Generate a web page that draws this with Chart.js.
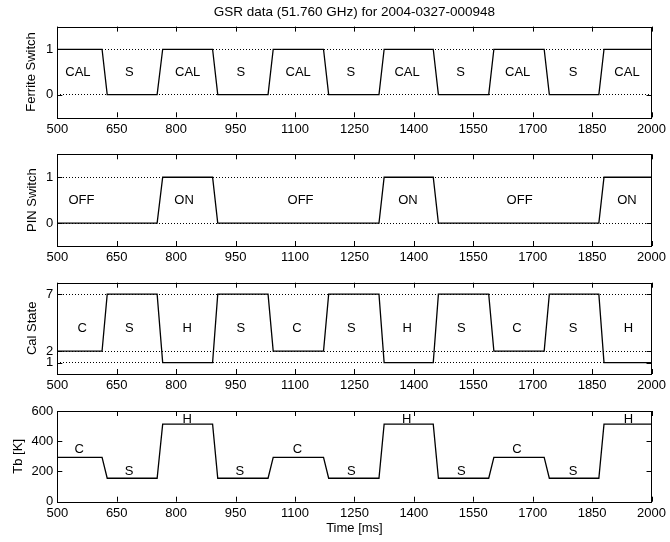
<!DOCTYPE html>
<html>
<head>
<meta charset="utf-8">
<script src="https://cdn.jsdelivr.net/npm/chart.js@4"></script>
<style>
  html, body { margin: 0; padding: 0; background: #fff; }
  #wrap { position: relative; width: 670px; height: 542px; }
  .panel { position: absolute; left: 0; width: 670px; }
</style>
</head>
<body>
<div id="wrap">
  <div class="panel" style="top:0px;height:140px"><canvas id="c1"></canvas></div>
  <div class="panel" style="top:128px;height:140px"><canvas id="c2"></canvas></div>
  <div class="panel" style="top:256px;height:140px"><canvas id="c3"></canvas></div>
  <div class="panel" style="top:384px;height:158px"><canvas id="c4"></canvas></div>
</div>
<script>
// corner times of the switching waveform (ms)
const timeMs = [500, 613, 626, 752, 766, 892, 905, 1032, 1045, 1172, 1185, 1312, 1325, 1449, 1462, 1589, 1602, 1729, 1742, 1867, 1880, 2000];
const ferrite = [1, 1, 0, 0, 1, 1, 0, 0, 1, 1, 0, 0, 1, 1, 0, 0, 1, 1, 0, 0, 1, 1];
const pinSwitch = [0, 0, 0, 0, 1, 1, 0, 0, 0, 0, 0, 0, 1, 1, 0, 0, 0, 0, 0, 0, 1, 1];
const calState = [2, 2, 7, 7, 1, 1, 7, 7, 2, 2, 7, 7, 1, 1, 7, 7, 2, 2, 7, 7, 1, 1];
const tb = [293, 293, 155, 155, 513, 513, 155, 155, 293, 293, 155, 155, 513, 513, 155, 155, 293, 293, 155, 155, 513, 513];

const xTicks = [500, 650, 800, 950, 1100, 1250, 1400, 1550, 1700, 1850, 2000];

// text labels inside the panels
const ferriteText = ['CAL', 'S', 'CAL', 'S', 'CAL', 'S', 'CAL', 'S', 'CAL', 'S', 'CAL'];
const ferriteTextX = [552, 682, 829, 963, 1108, 1241, 1383, 1518, 1662, 1802, 1938];
const ferriteTextY = [0.5, 0.5, 0.5, 0.5, 0.5, 0.5, 0.5, 0.5, 0.5, 0.5, 0.5];

const pinText = ['OFF', 'ON', 'OFF', 'ON', 'OFF', 'ON'];
const pinTextX = [561, 820, 1114, 1385, 1667, 1938];
const pinTextY = [0.5, 0.5, 0.5, 0.5, 0.5, 0.5];

const calText = ['C', 'S', 'H', 'S', 'C', 'S', 'H', 'S', 'C', 'S', 'H'];
const calTextX = [563, 682, 828, 963, 1105, 1242, 1383, 1520, 1660, 1802, 1942];
const calTextY = [4, 4, 4, 4, 4, 4, 4, 4, 4, 4, 4];

const tbText = ['C', 'S', 'H', 'S', 'C', 'S', 'H', 'S', 'C', 'S', 'H'];
const tbTextX = [555, 681, 828, 961, 1106, 1242, 1382, 1520, 1660, 1802, 1942];
const tbTextY = [346, 198, 545, 198, 346, 198, 545, 198, 346, 198, 545];

Chart.defaults.font.family = "'Liberation Sans', Arial, Helvetica, sans-serif";
Chart.defaults.font.size = 13;
Chart.defaults.color = '#000';

const FONT = "13px 'Liberation Sans', Arial, Helvetica, sans-serif";

// matlab style box, inward ticks and in-axes text
const matlabAxes = {
  id: 'matlabAxes',
  afterDatasetsDraw(chart, args, opts) {
    const { ctx, chartArea: a, scales } = chart;
    const xs = scales.x, ys = scales.y;
    ctx.save();
    ctx.strokeStyle = '#000';
    ctx.lineWidth = 1;
    ctx.beginPath();
    xs.ticks.forEach(t => {
      const px = Math.round(xs.getPixelForValue(t.value)) + 0.5;
      ctx.moveTo(px, a.top); ctx.lineTo(px, a.top + 5);
      ctx.moveTo(px, a.bottom); ctx.lineTo(px, a.bottom - 5);
    });
    ys.ticks.forEach(t => {
      const py = Math.round(ys.getPixelForValue(t.value)) + 0.5;
      ctx.moveTo(a.left, py); ctx.lineTo(a.left + 5, py);
      ctx.moveTo(a.right, py); ctx.lineTo(a.right - 5, py);
    });
    ctx.stroke();
    ctx.strokeRect(Math.round(a.left) + 0.5, Math.round(a.top) + 0.5,
      Math.round(a.right - a.left), Math.round(a.bottom - a.top));
    ctx.fillStyle = '#000';
    ctx.font = FONT;
    ctx.textAlign = 'center';
    ctx.textBaseline = 'middle';
    opts.text.forEach((s, i) => {
      ctx.fillText(s, xs.getPixelForValue(opts.x[i]), ys.getPixelForValue(opts.y[i]));
    });
    ctx.restore();
  }
};

function makePanel(id, cfg) {
  const ds = timeMs.map((t, i) => ({ x: t, y: cfg.values[i] }));
  return new Chart(document.getElementById(id), {
    type: 'line',
    data: {
      datasets: [{
        data: ds,
        borderColor: '#000',
        borderWidth: 1.3,
        pointRadius: 0,
        tension: 0,
        fill: false
      }]
    },
    options: {
      responsive: true,
      maintainAspectRatio: false,
      animation: false,
      events: [],
      layout: { padding: { top: cfg.padTop, right: 15.5, left: 0, bottom: 0 } },
      plugins: {
        legend: { display: false },
        tooltip: { enabled: false },
        title: cfg.title ? {
          display: true,
          text: cfg.title,
          fullSize: false,
          font: { size: 13.5, weight: 'normal', lineHeight: 1.2 },
          color: '#000',
          padding: { top: 4.5, bottom: 5.9 }
        } : { display: false },
        matlabAxes: { text: cfg.text, x: cfg.textX, y: cfg.textY }
      },
      scales: {
        x: {
          type: 'linear',
          min: 500,
          max: 2000,
          afterBuildTicks: s => { s.ticks = xTicks.map(v => ({ value: v })); },
          afterFit: s => { s.height = cfg.xHeight; },
          grid: { display: false, drawTicks: false },
          border: { display: false },
          ticks: { padding: 4, maxRotation: 0, autoSkip: false, color: '#000', callback: v => String(v) },
          title: cfg.xTitle ? {
            display: true, text: cfg.xTitle, color: '#000',
            padding: { top: 0, bottom: 6 }
          } : { display: false }
        },
        y: {
          type: 'linear',
          min: cfg.yMin,
          max: cfg.yMax,
          afterBuildTicks: s => { s.ticks = cfg.yTicks.map(v => ({ value: v })); },
          afterFit: s => { s.width = 57.3; },
          grid: {
            display: cfg.grid,
            drawTicks: false,
            color: '#000',
            lineWidth: 1
          },
          border: { display: false, dash: [1, 2] },
          ticks: { padding: 4, autoSkip: false, color: '#000', callback: v => String(v) },
          title: {
            display: true, text: cfg.yTitle, color: '#000',
            padding: { top: cfg.yTitlePad, bottom: 0 }
          }
        }
      }
    },
    plugins: [matlabAxes]
  });
}

makePanel('c1', {
  values: ferrite, yMin: -0.5, yMax: 1.5, yTicks: [0, 1], grid: true,
  yTitle: 'Ferrite Switch', yTitlePad: 24, padTop: 0, xHeight: 22.7,
  title: 'GSR data (51.760 GHz) for 2004-0327-000948',
  text: ferriteText, textX: ferriteTextX, textY: ferriteTextY
});
makePanel('c2', {
  values: pinSwitch, yMin: -0.5, yMax: 1.5, yTicks: [0, 1], grid: true,
  yTitle: 'PIN Switch', yTitlePad: 24.5, padTop: 26.3, xHeight: 22,
  text: pinText, textX: pinTextX, textY: pinTextY
});
makePanel('c3', {
  values: calState, yMin: 0, yMax: 8, yTicks: [1, 2, 7], grid: true,
  yTitle: 'Cal State', yTitlePad: 25, padTop: 26.7, xHeight: 22,
  text: calText, textX: calTextX, textY: calTextY
});
makePanel('c4', {
  values: tb, yMin: 0, yMax: 600, yTicks: [0, 200, 400, 600], grid: false,
  yTitle: 'Tb [K]', yTitlePad: 10.7, padTop: 27, xHeight: 40.3,
  xTitle: 'Time [ms]',
  text: tbText, textX: tbTextX, textY: tbTextY
});
</script>
</body>
</html>
